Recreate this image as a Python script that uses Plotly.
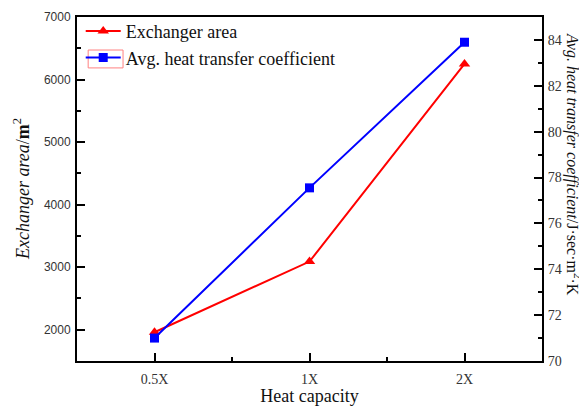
import plotly.graph_objects as go

categories = ["0.5X", "1X", "2X"]
exchanger_area = [1960, 3090, 6250]
heat_transfer_coef = [71.0, 77.55, 83.9]

xpos = list(range(len(categories)))

fig = go.Figure()
fig.add_trace(go.Scatter(
    x=xpos, y=exchanger_area, name="Exchanger area",
    mode="lines+markers",
    line=dict(color="#ff0000", width=2),
    marker=dict(symbol="triangle-up", size=10, color="#ff0000"),
    yaxis="y",
))
fig.add_trace(go.Scatter(
    x=xpos, y=heat_transfer_coef, name="Avg. heat transfer coefficient",
    mode="lines+markers",
    line=dict(color="#0000ff", width=2),
    marker=dict(symbol="square", size=9, color="#0000ff"),
    yaxis="y2",
))

# the page body adds an 8px offset, so the figure is sized to fit the window
fig.update_layout(
    width=579, height=398,
    margin=dict(l=69, r=45, t=9, b=45, autoexpand=False),
    paper_bgcolor="white", plot_bgcolor="white",
    font=dict(family="Liberation Serif", color="#222"),
    showlegend=True,
    legend=dict(
        x=0.008, y=1.012, xanchor="left", yanchor="top",
        bgcolor="rgba(0,0,0,0)",
        font=dict(family="Liberation Serif", size=18, color="#111"),
        tracegroupgap=0, itemwidth=35,
    ),
    xaxis=dict(
        range=[-0.5, 2.5],
        tickmode="array", tickvals=xpos, ticktext=categories,
        ticks="inside", ticklen=8, tickwidth=2, tickcolor="black",
        minor=dict(tickmode="array", tickvals=[0.5, 1.5], ticks="inside",
                   ticklen=4, tickwidth=2, tickcolor="black"),
        showline=True, linecolor="black", linewidth=2, mirror=True,
        showgrid=False, zeroline=False,
        ticklabelstandoff=4,
        tickfont=dict(family="Liberation Serif", size=14, color="#333"),
        title=dict(text="Heat capacity",
                   font=dict(family="Liberation Serif", size=18, color="#111"),
                   standoff=11),
    ),
    yaxis=dict(
        range=[1500, 7000], tick0=0, dtick=1000,
        ticks="inside", ticklen=8, tickwidth=2, tickcolor="black",
        minor=dict(dtick=500, ticks="inside", ticklen=4, tickwidth=2, tickcolor="black"),
        showline=True, linecolor="black", linewidth=2,
        showgrid=False, zeroline=False,
        ticklabelstandoff=2,
        tickfont=dict(family="Liberation Sans", size=12, color="#333"),
    ),
    yaxis2=dict(
        overlaying="y", side="right",
        range=[70, 85], tick0=70, dtick=2,
        ticks="inside", ticklen=8, tickwidth=2, tickcolor="black",
        minor=dict(dtick=1, ticks="inside", ticklen=4, tickwidth=2, tickcolor="black"),
        showline=True, linecolor="black", linewidth=2,
        showgrid=False, zeroline=False,
        ticklabelstandoff=1,
        tickfont=dict(family="Liberation Serif", size=14, color="#333"),
    ),
    annotations=[
        dict(text="<i>Exchanger area</i>/<b>m</b><sup>2</sup>",
             xref="paper", yref="paper", x=0, xshift=-56, y=0.5,
             xanchor="center", yanchor="middle", textangle=-90, showarrow=False,
             font=dict(family="Liberation Serif", size=18, color="#111")),
        dict(text="<i>Avg. heat transfer coefficient</i>/J·sec·m<sup>2</sup>·K",
             xref="paper", yref="paper", x=1.0, xshift=31, y=0.573,
             xanchor="center", yanchor="middle", textangle=90, showarrow=False,
             font=dict(family="Liberation Serif", size=16, color="#111")),
    ],
    shapes=[
        dict(type="rect", xref="paper", yref="paper",
             x0=0.024, x1=0.099, y0=0.852, y1=0.904,
             line=dict(color="#ff8080", width=1)),
    ],
)

fig.write_html("out.html")
